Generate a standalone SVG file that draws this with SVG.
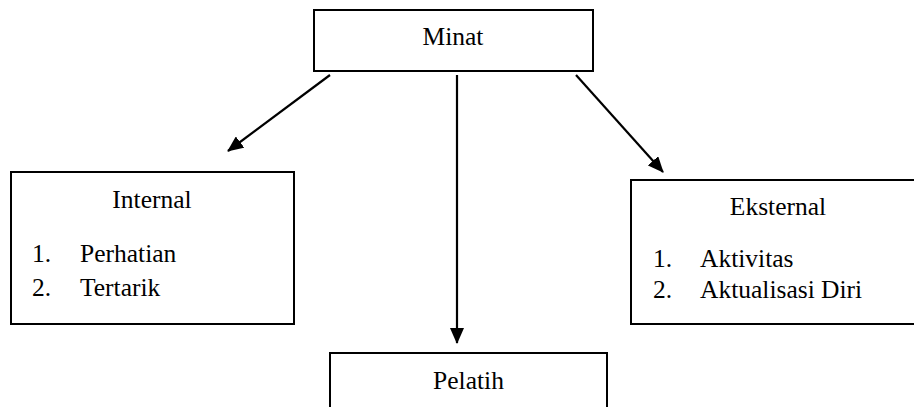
<svg xmlns="http://www.w3.org/2000/svg" width="914" height="407" viewBox="0 0 914 407">
<style>
.box{fill:#fff;stroke:#000;stroke-width:2}
.t{font-family:"Liberation Serif","Times New Roman",serif;font-size:25.5px;fill:#000}
.c{text-anchor:middle}
.con{stroke:#000;stroke-width:2.2;fill:none}
</style>
<defs>
<marker id="ah" markerWidth="16" markerHeight="14" refX="15" refY="7" orient="auto" markerUnits="userSpaceOnUse">
<path d="M0,0 L16,7 L0,14 Z" fill="#000"/>
</marker>
</defs>
<rect width="914" height="407" fill="#fff"/>
<g id="connectors">
<line class="con" x1="330" y1="75" x2="228" y2="151" marker-end="url(#ah)"/>
<line class="con" x1="457" y1="75" x2="457" y2="343" marker-end="url(#ah)"/>
<line class="con" x1="576" y1="75" x2="663" y2="172" marker-end="url(#ah)"/>
</g>
<g id="minat">
<rect class="box" x="314" y="10" width="279" height="61"/>
<text class="t c" x="453" y="45">Minat</text>
</g>
<g id="internal">
<rect class="box" x="11" y="172" width="283" height="152"/>
<text class="t c" x="152" y="208">Internal</text>
<text class="t" x="32" y="262">1.</text>
<text class="t" x="80" y="262">Perhatian</text>
<text class="t" x="32" y="296">2.</text>
<text class="t" x="80" y="296">Tertarik</text>
</g>
<g id="eksternal">
<rect class="box" x="631" y="180" width="290" height="144"/>
<text class="t c" x="778" y="215">Eksternal</text>
<text class="t" x="653" y="267">1.</text>
<text class="t" x="700" y="267">Aktivitas</text>
<text class="t" x="653" y="298">2.</text>
<text class="t" x="700" y="298">Aktualisasi Diri</text>
</g>
<g id="pelatih">
<rect class="box" x="330" y="353" width="277" height="70"/>
<text class="t c" x="468.5" y="389">Pelatih</text>
</g>
</svg>
